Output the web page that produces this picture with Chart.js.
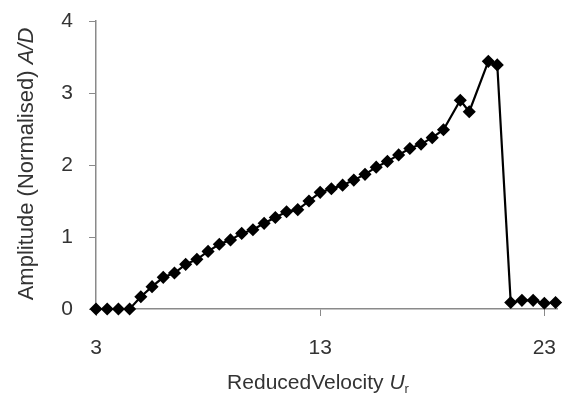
<!DOCTYPE html>
<html>
<head>
<meta charset="utf-8">
<script src="https://cdn.jsdelivr.net/npm/chart.js@4/dist/chart.umd.min.js"></script>
<style>
  html, body { margin: 0; padding: 0; background: #fff; }
  #wrap { width: 565px; height: 401px; position: relative; }
</style>
</head>
<body>
<div id="wrap"><canvas id="ampChart"></canvas></div>
<script>
// Values
const velocity = [3, 3.5, 4, 4.5, 5, 5.5, 6, 6.5, 7, 7.5, 8, 8.5, 9, 9.5, 10, 10.5, 11, 11.5, 12, 12.5,
                  13, 13.5, 14, 14.5, 15, 15.5, 16, 16.5, 17, 17.5, 18, 18.5, 19.25, 19.65, 20.5, 20.9,
                  21.5, 22, 22.5, 23, 23.5];
const amplitude = [0, 0, 0, 0, 0.17, 0.31, 0.44, 0.5, 0.62, 0.69, 0.8, 0.9, 0.96, 1.05, 1.1, 1.19, 1.27, 1.35, 1.38, 1.5,
                   1.62, 1.67, 1.72, 1.79, 1.87, 1.97, 2.05, 2.14, 2.23, 2.29, 2.38, 2.49, 2.9, 2.74, 3.44, 3.39,
                   0.09, 0.12, 0.12, 0.08, 0.09];
const xTickValues = [3, 13, 23];
const yTickValues = [0, 1, 2, 3, 4];

const FONT = 'Liberation Sans, Arial, sans-serif';
const AXIS_GREY = '#8a8a8a';

// draw a run of text pieces (some italic) centred on a point
function drawParts(ctx, parts, cx, cy, angle) {
    ctx.save();
    ctx.translate(cx, cy);
    ctx.rotate(angle);
    let total = 0;
    parts.forEach(p => {
        ctx.font = (p.italic ? 'italic ' : '') + p.size + 'px ' + FONT;
        total += ctx.measureText(p.text).width;
    });
    let x = -total / 2;
    ctx.textBaseline = 'middle';
    ctx.textAlign = 'left';
    ctx.fillStyle = '#333';
    parts.forEach(p => {
        ctx.font = (p.italic ? 'italic ' : '') + p.size + 'px ' + FONT;
        ctx.fillText(p.text, x, p.dy || 0);
        x += ctx.measureText(p.text).width;
    });
    ctx.restore();
}

const axisTitles = {
    id: 'axisTitles',
    afterDraw(chart) {
        const ctx = chart.ctx;
        drawParts(ctx, [
            { text: 'Amplitude (Normalised) ', size: 22 },
            { text: 'A/D', size: 22, italic: true }
        ], 27, 164, -Math.PI / 2);
        drawParts(ctx, [
            { text: 'ReducedVelocity ', size: 21 },
            { text: 'U', size: 21, italic: true },
            { text: 'r', size: 13, dy: 6 }
        ], 318, 383, 0);
    }
};

const points = velocity.map((v, i) => ({ x: v, y: amplitude[i] }));

new Chart(document.getElementById('ampChart'), {
    type: 'line',
    data: {
        datasets: [{
            data: points,
            borderColor: '#000',
            backgroundColor: '#000',
            borderWidth: 2.2,
            pointStyle: 'rectRot',
            pointRadius: 5,
            pointHoverRadius: 5,
            pointBackgroundColor: '#000',
            pointBorderColor: '#000',
            tension: 0,
            clip: false
        }]
    },
    options: {
        responsive: true,
        maintainAspectRatio: false,
        animation: false,
        layout: { padding: { top: 21, right: 7, left: 0, bottom: 0 } },
        plugins: {
            legend: { display: false },
            tooltip: { enabled: false }
        },
        scales: {
            x: {
                type: 'linear',
                min: 3,
                max: 23.6,
                afterBuildTicks: axis => { axis.ticks = xTickValues.map(v => ({ value: v })); },
                afterFit: axis => {
                    axis.height = 92;
                    axis.paddingLeft = 0;
                    axis.paddingRight = 0;
                },
                grid: {
                    drawOnChartArea: false,
                    drawTicks: true,
                    tickLength: 7,
                    color: AXIS_GREY
                },
                border: { color: AXIS_GREY, width: 1.5 },
                ticks: {
                    color: '#333',
                    font: { family: FONT, size: 21 },
                    padding: 20,
                    maxRotation: 0
                }
            },
            y: {
                min: 0,
                max: 4,
                afterBuildTicks: axis => { axis.ticks = yTickValues.map(v => ({ value: v })); },
                afterFit: axis => {
                    axis.width = 96;
                    axis.paddingTop = 0;
                    axis.paddingBottom = 0;
                },
                grid: {
                    drawOnChartArea: false,
                    drawTicks: true,
                    tickLength: 7,
                    color: AXIS_GREY
                },
                border: { color: AXIS_GREY, width: 1.5 },
                ticks: {
                    color: '#333',
                    font: { family: FONT, size: 21 },
                    padding: 16
                }
            }
        }
    },
    plugins: [axisTitles]
});
</script>
</body>
</html>
